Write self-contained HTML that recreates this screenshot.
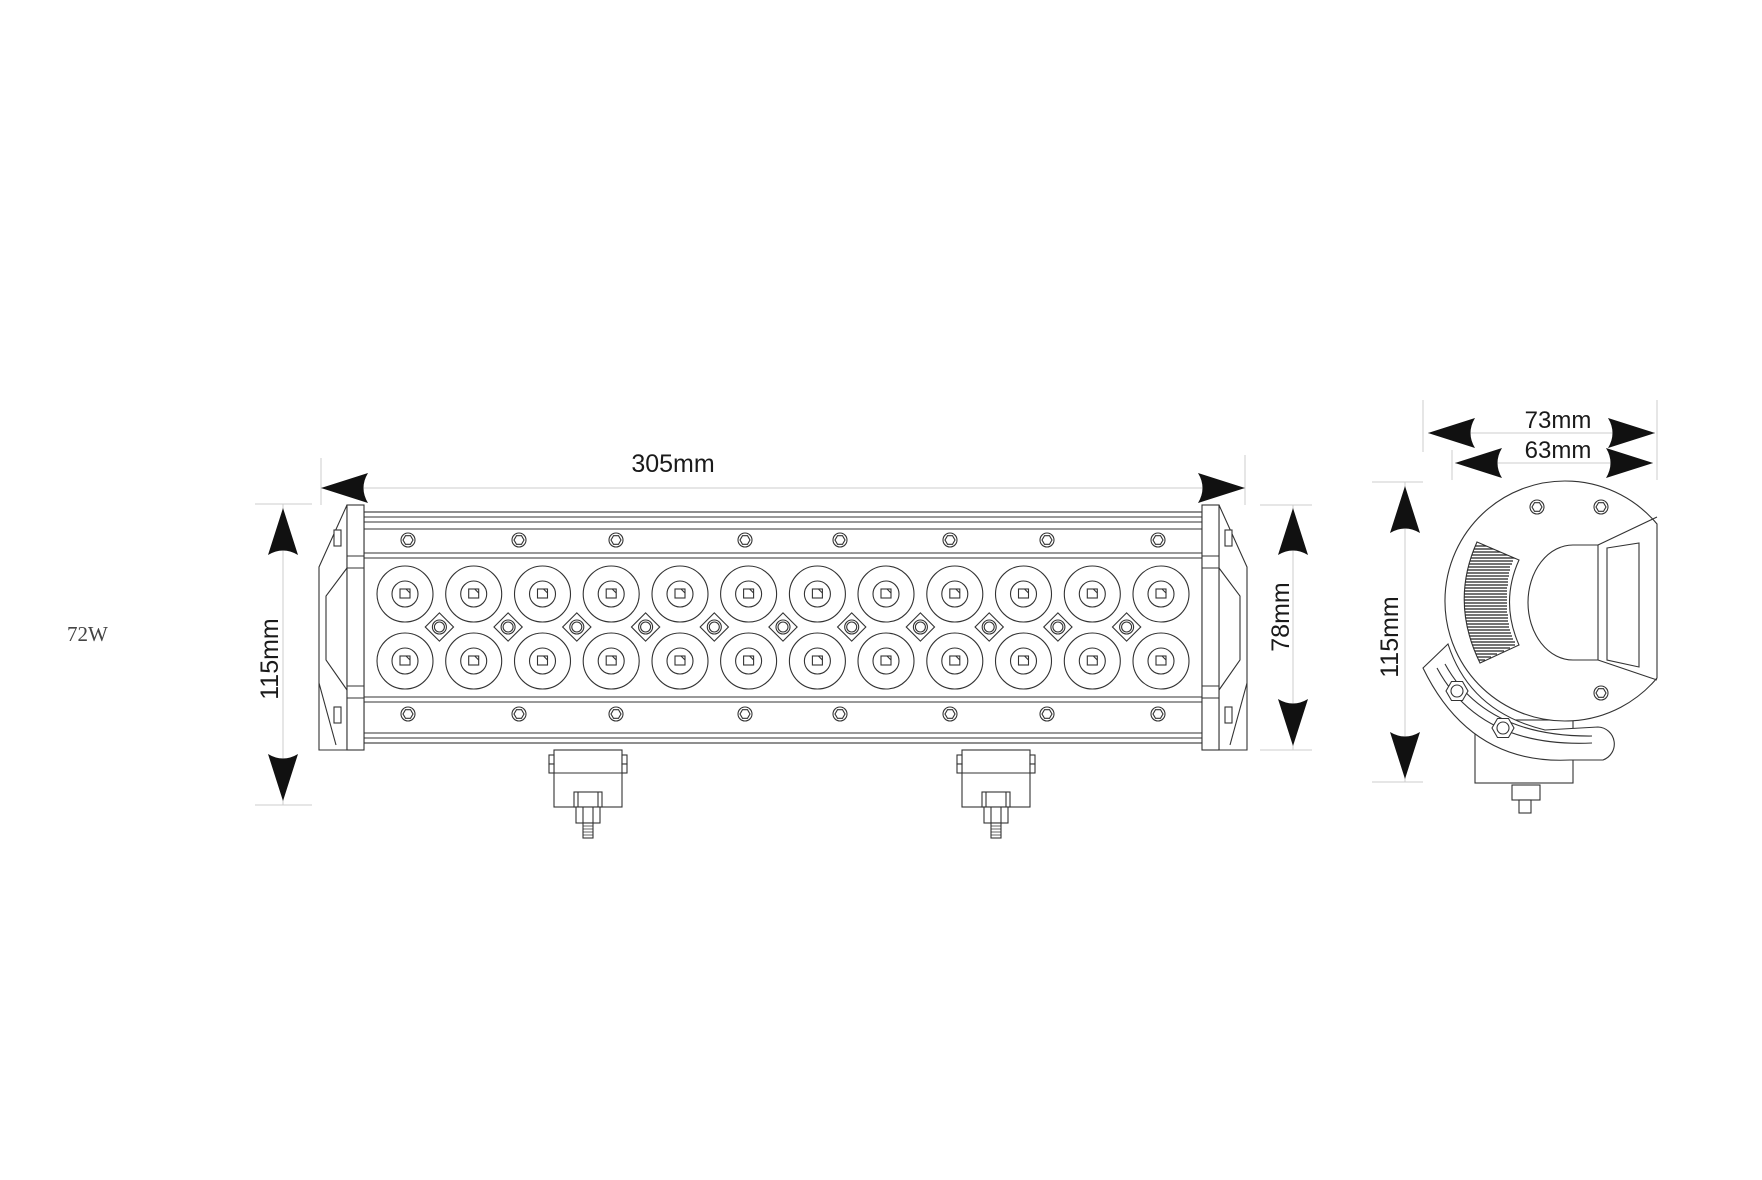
<!DOCTYPE html>
<html><head><meta charset="utf-8"><style>
html,body{margin:0;padding:0;background:#fff;}
svg{display:block;}
text{font-family:"Liberation Sans",sans-serif;fill:#1a1a1a;}
</style></head><body>
<svg width="1762" height="1180" viewBox="0 0 1762 1180" xmlns="http://www.w3.org/2000/svg">
<defs>
<g id="lens" fill="none" stroke="#333" stroke-width="1.1">
<circle r="28"/><circle r="13"/><rect x="-5" y="-5" width="10" height="9"/><path d="M1,-5 L5,-1"/>
</g>
<g id="dia" fill="none" stroke="#333" stroke-width="1.1">
<rect x="-10" y="-10" width="20" height="20" transform="rotate(45)"/><circle r="7"/><circle r="5"/>
</g>
<g id="scr" fill="none" stroke="#333" stroke-width="1.1">
<circle r="7"/><polygon points="5,0 2.5,4.3 -2.5,4.3 -5,0 -2.5,-4.3 2.5,-4.3"/>
</g>
<g id="brk" fill="#fff" stroke="#333" stroke-width="1.1">
<rect x="-34" y="750" width="68" height="57"/>
<rect x="-39" y="755" width="5" height="9"/><rect x="-39" y="764" width="5" height="9"/>
<rect x="34" y="755" width="5" height="9"/><rect x="34" y="764" width="5" height="9"/>
<line x1="-34" y1="773" x2="34" y2="773"/>
<rect x="-14" y="792" width="28" height="15"/><line x1="-10" y1="792" x2="-10" y2="807"/><line x1="10" y1="792" x2="10" y2="807"/>
<rect x="-12" y="807" width="24" height="16"/><line x1="-5" y1="807" x2="-5" y2="823"/><line x1="5" y1="807" x2="5" y2="823"/>
<rect x="-5" y="823" width="10" height="15"/>
<path d="M-5,826 H5 M-5,829 H5 M-5,832 H5 M-5,835 H5" stroke-width="0.8"/>
</g>
<g id="cap" fill="#fff" stroke="#333" stroke-width="1.1">
<path d="M1219,505 L1247,567 L1247,750 L1219,750 Z"/>
<path d="M1219,568 L1240,596 L1240,660 L1219,690" fill="none"/>
<path d="M1247,683 L1230,745" fill="none"/>
<rect x="1225" y="530" width="7" height="16"/><rect x="1225" y="707" width="7" height="16"/>
<rect x="1202" y="505" width="17" height="245"/>
<line x1="1202" y1="556" x2="1219" y2="556"/><line x1="1202" y1="568" x2="1219" y2="568"/>
<line x1="1202" y1="686" x2="1219" y2="686"/><line x1="1202" y1="698" x2="1219" y2="698"/>
</g>
<clipPath id="hs"><path d="M1477,542 L1519,560 Q1500,602 1519,645 L1480,663 Q1450,602 1477,542 Z"/></clipPath>
</defs>

<text x="67" y="641" style="font-family:'Liberation Serif',serif;font-size:21px;fill:#444">72W</text>

<g fill="none" stroke="#333" stroke-width="1.1">
<rect x="364" y="512" width="838" height="231"/>
<path d="M364,517H1202 M364,522H1202 M364,529H1202 M364,553H1202 M364,558H1202 M364,697H1202 M364,702H1202 M364,733H1202 M364,738H1202"/>
</g>
<use href="#cap"/>
<use href="#cap" transform="translate(1566,0) scale(-1,1)"/>

<g id="lensrow">
<use href="#lens" x="405" y="594"/><use href="#lens" x="473.7" y="594"/><use href="#lens" x="542.5" y="594"/><use href="#lens" x="611.2" y="594"/><use href="#lens" x="680" y="594"/><use href="#lens" x="748.6" y="594"/><use href="#lens" x="817.4" y="594"/><use href="#lens" x="886" y="594"/><use href="#lens" x="954.8" y="594"/><use href="#lens" x="1023.5" y="594"/><use href="#lens" x="1092.3" y="594"/><use href="#lens" x="1161" y="594"/>
</g>
<use href="#lensrow" y="67"/>
<use href="#dia" x="439.4" y="627"/><use href="#dia" x="508.1" y="627"/><use href="#dia" x="576.8" y="627"/><use href="#dia" x="645.6" y="627"/><use href="#dia" x="714.3" y="627"/><use href="#dia" x="783" y="627"/><use href="#dia" x="851.7" y="627"/><use href="#dia" x="920.4" y="627"/><use href="#dia" x="989.2" y="627"/><use href="#dia" x="1057.9" y="627"/><use href="#dia" x="1126.6" y="627"/>

<g id="scrrow">
<use href="#scr" x="408" y="540"/><use href="#scr" x="519" y="540"/><use href="#scr" x="616" y="540"/><use href="#scr" x="745" y="540"/><use href="#scr" x="840" y="540"/><use href="#scr" x="950" y="540"/><use href="#scr" x="1047" y="540"/><use href="#scr" x="1158" y="540"/>
</g>
<use href="#scrrow" y="174"/>

<use href="#brk" x="588"/>
<use href="#brk" x="996"/>

<g stroke="#ccc" stroke-width="1">
<line x1="321" y1="458" x2="321" y2="505"/><line x1="1245" y1="455" x2="1245" y2="505"/>
<line x1="321" y1="488" x2="1245" y2="488"/>
<line x1="255" y1="504" x2="312" y2="504"/><line x1="255" y1="805" x2="312" y2="805"/>
<line x1="283" y1="504" x2="283" y2="805"/>
<line x1="1260" y1="505" x2="1312" y2="505"/><line x1="1260" y1="750" x2="1312" y2="750"/>
<line x1="1293" y1="505" x2="1293" y2="750"/>
</g>
<g fill="#111">
<path d="M321,488 L368,473 Q359,488 368,503 Z"/>
<path d="M1245,488 L1198,473 Q1207,488 1198,503 Z"/>
<path d="M283,508 L268,555 Q283,546 298,555 Z"/>
<path d="M283,801 L268,754 Q283,763 298,754 Z"/>
<path d="M1293,508 L1278,555 Q1293,546 1308,555 Z"/>
<path d="M1293,746 L1278,699 Q1293,708 1308,699 Z"/>
</g>
<text x="673" y="472" font-size="25" text-anchor="middle">305mm</text>
<text transform="translate(278,659) rotate(-90)" font-size="25" text-anchor="middle">115mm</text>
<text transform="translate(1289,617) rotate(-90)" font-size="25" text-anchor="middle">78mm</text>

<g stroke="#ccc" stroke-width="1">
<line x1="1423" y1="400" x2="1423" y2="452"/><line x1="1452" y1="450" x2="1452" y2="480"/><line x1="1657" y1="400" x2="1657" y2="480"/>
<line x1="1428" y1="433" x2="1655" y2="433"/><line x1="1455" y1="463" x2="1653" y2="463"/>
<line x1="1372" y1="482" x2="1423" y2="482"/><line x1="1372" y1="782" x2="1423" y2="782"/>
<line x1="1405" y1="482" x2="1405" y2="782"/>
</g>
<g fill="#111">
<path d="M1428,433 L1475,418 Q1466,433 1475,448 Z"/>
<path d="M1655,433 L1608,418 Q1617,433 1608,448 Z"/>
<path d="M1455,463 L1502,448 Q1493,463 1502,478 Z"/>
<path d="M1653,463 L1606,448 Q1615,463 1606,478 Z"/>
<path d="M1405,486 L1390,533 Q1405,524 1420,533 Z"/>
<path d="M1405,779 L1390,732 Q1405,741 1420,732 Z"/>
</g>
<text x="1558" y="428" font-size="24" text-anchor="middle">73mm</text>
<text x="1558" y="458" font-size="24" text-anchor="middle">63mm</text>
<text transform="translate(1398,637) rotate(-90)" font-size="25" text-anchor="middle">115mm</text>

<g fill="#fff" stroke="#333" stroke-width="1.1">
<rect x="1475" y="720" width="98" height="63"/>
<path d="M1657,524 A120,120 0 1 0 1657,678 Z"/>
<path d="M1573,545 L1598,545 L1598,660 L1573,660 A45,57.5 0 0 1 1573,545 Z"/>
<path d="M1598,545 L1657,517 M1598,660 L1657,680" fill="none"/>
<path d="M1607,548 L1639,543 L1639,667 L1607,660 Z"/>
<path d="M1477,542 L1519,560 Q1500,602 1519,645 L1480,663 Q1450,602 1477,542 Z"/>
<path d="M1423,668 L1448,644 Q1470,712 1545,730 L1598,727 A17,17 0 0 1 1603,760 L1570,760 Q1470,765 1423,668 Z"/>
<path d="M1437,668 Q1480,748 1592,743" fill="none"/>
<path d="M1445,664 Q1485,737 1592,736" fill="none"/>
<rect x="1512" y="785" width="28" height="15"/><rect x="1519" y="800" width="12" height="13"/>
</g>
<g stroke="#222" stroke-width="1.3" clip-path="url(#hs)">
<path d="M1450,546H1509 M1450,549H1509 M1450,552H1512 M1450,555H1514 M1450,558H1516 M1450,561H1513 M1450,564H1512 M1450,567H1510 M1450,570H1510 M1450,573H1509 M1450,576H1509 M1450,579H1508 M1450,582H1508 M1450,585H1508 M1450,588H1507 M1450,591H1507 M1450,594H1507 M1450,597H1507 M1450,600H1507 M1450,603H1507 M1450,606H1507 M1450,609H1507 M1450,612H1507 M1450,615H1508 M1450,618H1508 M1450,621H1508 M1450,624H1509 M1450,627H1509 M1450,630H1510 M1450,633H1511 M1450,636H1512 M1450,639H1513 M1450,642H1515 M1450,645H1515 M1450,648H1510 M1450,651H1504 M1450,654H1497 M1450,657H1491 M1450,660H1485"/>
</g>
<use href="#scr" x="1537" y="507"/><use href="#scr" x="1601" y="507"/><use href="#scr" x="1601" y="693"/>
<g fill="#fff" stroke="#333" stroke-width="1.1">
<polygon points="1468,691 1462.5,700.5 1451.5,700.5 1446,691 1451.5,681.5 1462.5,681.5"/><circle cx="1457" cy="691" r="6"/>
<polygon points="1514,728 1508.5,737.5 1497.5,737.5 1492,728 1497.5,718.5 1508.5,718.5"/><circle cx="1503" cy="728" r="6"/>
</g>
</svg>
</body></html>
